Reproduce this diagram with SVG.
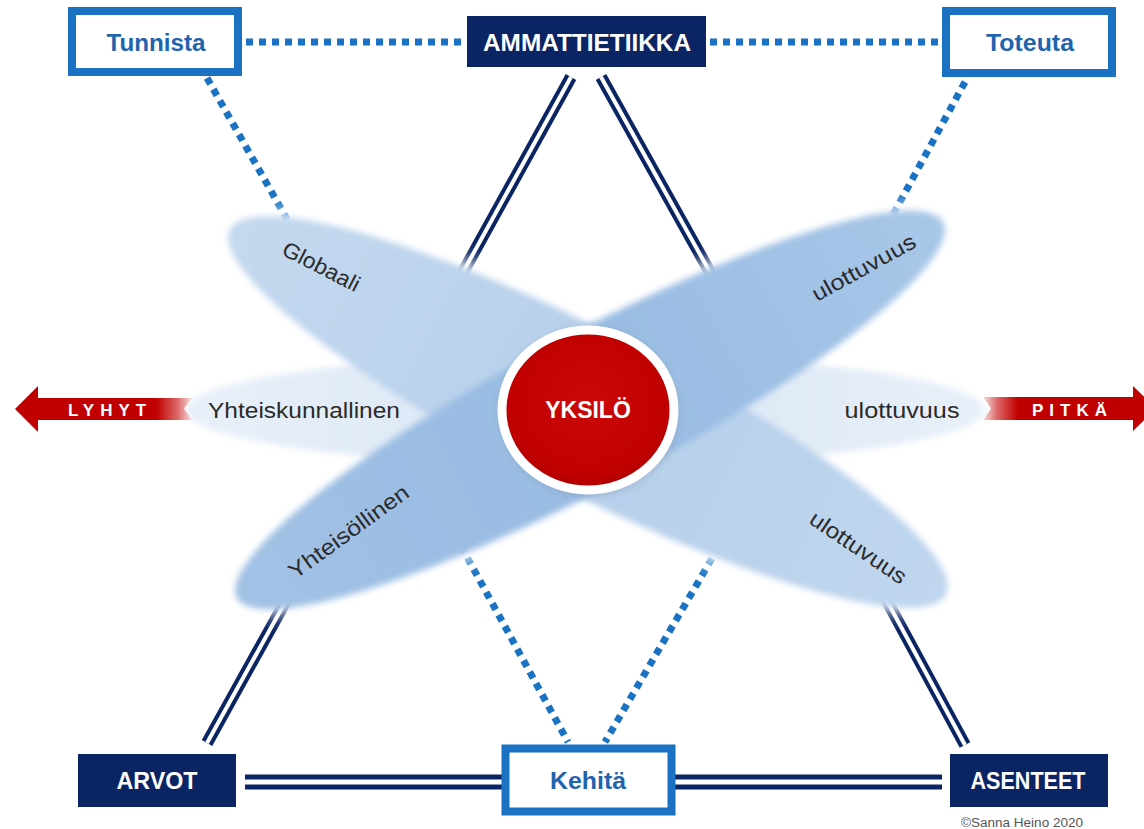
<svg xmlns="http://www.w3.org/2000/svg" width="1144" height="829" viewBox="0 0 1144 829">
<defs>
<style>
.dot{stroke:#1a72c4;stroke-width:7;stroke-dasharray:7 6;fill:none}
.dbl{stroke:#0b2463;stroke-width:12;fill:none}
.gap{stroke:#ffffff;stroke-width:4;fill:none}
.hdbl{stroke:#0b2463;stroke-width:15;fill:none}
.hgap{stroke:#ffffff;stroke-width:5;fill:none}
.bluebox{fill:#ffffff;stroke:#1b72c2;stroke-width:8}
.navybox{fill:#0b2463}
.lbl{font-family:"Liberation Sans",Arial,sans-serif;font-weight:bold;font-size:23px;text-anchor:middle}
.lblblue{fill:#1f64ae}
.lblwhite{fill:#ffffff}
.dim{font-family:"Liberation Sans",Arial,sans-serif;font-size:22px;fill:#2a2a2a;text-anchor:middle}
.arrtxt{font-family:"Liberation Sans",Arial,sans-serif;font-weight:bold;font-size:17px;fill:#ffffff;letter-spacing:6px}
</style>
<filter id="soft" x="-20%" y="-40%" width="140%" height="180%"><feGaussianBlur stdDeviation="3"/></filter>
<filter id="halo" x="-20%" y="-60%" width="140%" height="220%"><feGaussianBlur stdDeviation="8"/></filter>
<linearGradient id="gA" x1="0" y1="0" x2="1" y2="0">
<stop offset="0" stop-color="#c4d9ef"/><stop offset="0.5" stop-color="#b6cfea"/><stop offset="1" stop-color="#c0d6ee"/>
</linearGradient>
<linearGradient id="gB" x1="0" y1="0" x2="1" y2="0">
<stop offset="0" stop-color="#a2c2e5"/><stop offset="0.5" stop-color="#98bbe2"/><stop offset="1" stop-color="#a8c7e8"/>
</linearGradient>
<linearGradient id="gC" x1="0" y1="0" x2="1" y2="0">
<stop offset="0" stop-color="#e8f0f9"/><stop offset="0.5" stop-color="#d9e5f3"/><stop offset="1" stop-color="#e8f0f9"/>
</linearGradient>
<radialGradient id="gRed" cx="0.5" cy="0.45" r="0.55">
<stop offset="0" stop-color="#cc0808"/><stop offset="0.85" stop-color="#c00000"/><stop offset="1" stop-color="#a80000"/>
</radialGradient>
<linearGradient id="gL" gradientUnits="userSpaceOnUse" x1="15" y1="0" x2="192" y2="0">
<stop offset="0" stop-color="#c00000"/><stop offset="0.8" stop-color="#c00000"/><stop offset="0.92" stop-color="#de6a6a"/><stop offset="1" stop-color="#f8e2e2"/>
</linearGradient>
<linearGradient id="gR" gradientUnits="userSpaceOnUse" x1="983" y1="0" x2="1156" y2="0">
<stop offset="0" stop-color="#f8e2e2"/><stop offset="0.08" stop-color="#de6a6a"/><stop offset="0.2" stop-color="#c00000"/><stop offset="1" stop-color="#c00000"/>
</linearGradient>
</defs>

<rect x="0" y="0" width="1144" height="829" fill="#ffffff"/>

<g id="connectors">
<line class="dot" x1="246" y1="42" x2="467" y2="42"/>
<line class="dot" x1="710" y1="42" x2="942" y2="42"/>
<line class="dot" x1="207" y1="78" x2="292" y2="228"/>
<line class="dot" x1="965" y1="82" x2="888" y2="224"/>
<line class="dot" x1="455" y1="535" x2="568" y2="742"/>
<line class="dot" x1="725" y1="536" x2="605" y2="742"/>
<line class="dbl" x1="571" y1="77" x2="452" y2="292"/>
<line class="gap" x1="571" y1="77" x2="452" y2="292"/>
<line class="dbl" x1="601" y1="77" x2="721" y2="292"/>
<line class="gap" x1="601" y1="77" x2="721" y2="292"/>
<line class="dbl" x1="293" y1="588" x2="207" y2="743"/>
<line class="gap" x1="293" y1="588" x2="207" y2="743"/>
<line class="dbl" x1="880" y1="588" x2="965" y2="745"/>
<line class="gap" x1="880" y1="588" x2="965" y2="745"/>
<line class="hdbl" x1="245" y1="782" x2="502" y2="782"/>
<line class="hgap" x1="245" y1="782" x2="502" y2="782"/>
<line class="hdbl" x1="675" y1="782" x2="942" y2="782"/>
<line class="hgap" x1="675" y1="782" x2="942" y2="782"/>
</g>

<g id="dimensions">
<ellipse cx="0" cy="0" rx="408" ry="90" fill="#ffffff" opacity="0.8" filter="url(#halo)" transform="translate(588 412) rotate(27)"/>
<ellipse cx="0" cy="0" rx="406" ry="86" fill="#ffffff" opacity="0.8" filter="url(#halo)" transform="translate(590 410) rotate(-28)"/>
<ellipse cx="585" cy="410" rx="400" ry="55" fill="url(#gC)" filter="url(#soft)"/>
<ellipse cx="0" cy="0" rx="402" ry="80" fill="url(#gA)" filter="url(#soft)" transform="translate(588 412) rotate(27)"/>
<ellipse cx="0" cy="0" rx="400" ry="76" fill="url(#gB)" filter="url(#soft)" transform="translate(590 410) rotate(-28)"/>
<text class="dim" x="304" y="418" textLength="192" lengthAdjust="spacingAndGlyphs">Yhteiskunnallinen</text>
<text class="dim" x="902" y="418" textLength="115" lengthAdjust="spacingAndGlyphs">ulottuvuus</text>
<text class="dim" transform="translate(321 267) rotate(27)" x="0" y="7" textLength="84" lengthAdjust="spacingAndGlyphs">Globaali</text>
<text class="dim" transform="translate(864 268) rotate(-29)" x="0" y="7" textLength="115" lengthAdjust="spacingAndGlyphs">ulottuvuus</text>
<text class="dim" transform="translate(349 532) rotate(-36)" x="0" y="7" textLength="143" lengthAdjust="spacingAndGlyphs">Yhteisöllinen</text>
<text class="dim" transform="translate(858 548) rotate(34)" x="0" y="7" textLength="112" lengthAdjust="spacingAndGlyphs">ulottuvuus</text>
</g>

<g id="node-yksilo">
<ellipse cx="589" cy="412" rx="91" ry="86" fill="#7a8ea8" opacity="0.25" filter="url(#soft)"/>
<ellipse cx="588" cy="410" rx="86" ry="80" fill="url(#gRed)" stroke="#ffffff" stroke-width="9"/>
<text class="lbl lblwhite" x="588" y="418" font-size="22">YKSILÖ</text>
</g>

<g id="node-tunnista">
<rect class="bluebox" x="72" y="11" width="166" height="61"/>
<text class="lbl lblblue" x="156" y="51" textLength="99" lengthAdjust="spacingAndGlyphs">Tunnista</text>
</g>

<g id="node-ammattietiikka">
<rect class="navybox" x="467" y="16" width="239" height="51"/>
<text class="lbl lblwhite" x="587" y="50.5" textLength="208" lengthAdjust="spacingAndGlyphs">AMMATTIETIIKKA</text>
</g>

<g id="node-toteuta">
<rect class="bluebox" x="946" y="11" width="166" height="62"/>
<text class="lbl lblblue" x="1030" y="51" textLength="88" lengthAdjust="spacingAndGlyphs">Toteuta</text>
</g>

<g id="node-arvot">
<rect class="navybox" x="78" y="754" width="158" height="53"/>
<text class="lbl lblwhite" x="157" y="789" textLength="81" lengthAdjust="spacingAndGlyphs">ARVOT</text>
</g>

<g id="node-kehita">
<rect class="bluebox" x="505.5" y="748.5" width="166" height="63" stroke-width="7"/>
<text class="lbl lblblue" x="588" y="789" textLength="76" lengthAdjust="spacingAndGlyphs">Kehitä</text>
</g>

<g id="node-asenteet">
<rect class="navybox" x="950" y="754" width="158" height="53"/>
<text class="lbl lblwhite" x="1028" y="789" textLength="115" lengthAdjust="spacingAndGlyphs">ASENTEET</text>
</g>

<g id="arrow-lyhyt">
<path d="M15 409 L38 386 L38 398 L192 398 L184 408.5 L192 420 L38 420 L38 432 Z" fill="url(#gL)"/>
<text class="arrtxt" x="68" y="415.5">LYHYT</text>
</g>

<g id="arrow-pitka">
<path d="M983 397 L1133 397 L1133 386 L1156 408.5 L1133 431 L1133 420 L983 420 L991 408.5 Z" fill="url(#gR)"/>
<text class="arrtxt" x="1032" y="415.5">PITKÄ</text>
</g>

<text x="1022" y="827" font-family="Liberation Sans, Arial, sans-serif" font-size="12" fill="#555555" text-anchor="middle" textLength="122" lengthAdjust="spacingAndGlyphs">©Sanna Heino 2020</text>
</svg>
